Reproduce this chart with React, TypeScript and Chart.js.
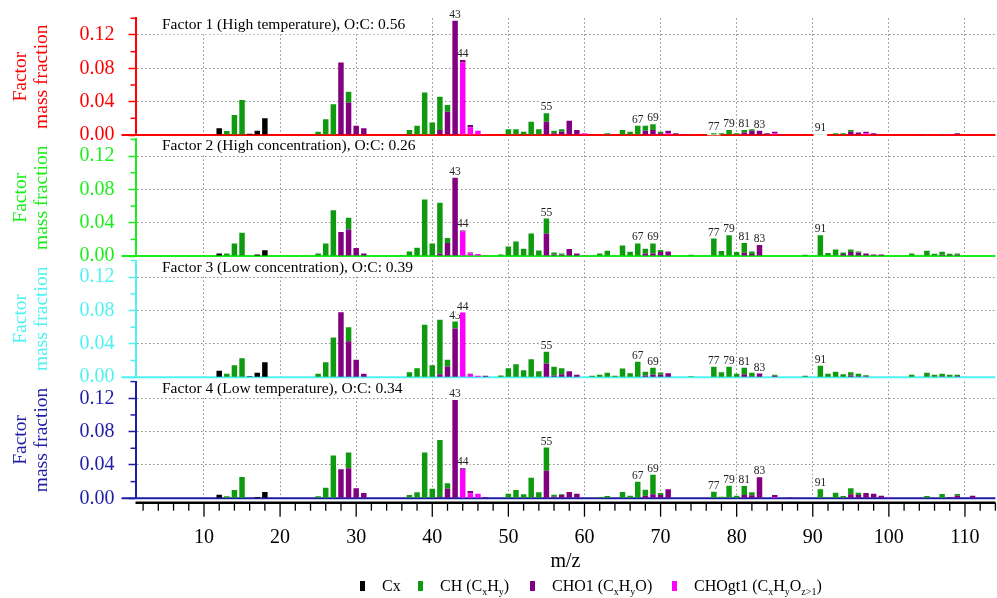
import React, { useEffect, useRef } from 'react';
import { Chart, registerables } from 'chart.js';

Chart.register(...registerables);

type Pair = [number, number];

// ---------------- data ----------------
const mzMin = 1;
const mzMax = 114;
const xTickLabels = [10, 20, 30, 40, 50, 60, 70, 80, 90, 100, 110];
const yTickLabels = [0, 0.04, 0.08, 0.12];
const yMinorTicks = [0.02, 0.06, 0.1, 0.14];
const yMax = 0.14;
const peakLabels = [43, 44, 55, 67, 69, 77, 79, 81, 83, 91];

const factorTitles = [
  'Factor 1 (High temperature), O:C: 0.56',
  'Factor 2 (High concentration), O:C: 0.26',
  'Factor 3 (Low concentration), O:C: 0.39',
  'Factor 4 (Low temperature), O:C: 0.34',
];

// Factor 1
const f1Cx: Pair[] = [[12, 0.008], [16, 0.0015], [17, 0.005], [18, 0.02]];
const f1CH: Pair[] = [[13, 0.0048], [14, 0.024], [15, 0.042], [25, 0.004], [26, 0.019], [27, 0.037], [29, 0.013], [37, 0.006], [38, 0.011], [39, 0.051], [40, 0.015], [41, 0.04], [42, 0.008], [50, 0.007], [51, 0.007], [52, 0.004], [53, 0.016], [54, 0.007], [55, 0.01], [56, 0.003], [57, 0.003], [63, 0.002], [65, 0.006], [66, 0.004], [67, 0.011], [68, 0.006], [69, 0.007], [70, 0.002], [74, 0.001], [76, 0.001], [77, 0.002], [78, 0.002], [79, 0.006], [80, 0.002], [81, 0.003], [82, 0.002], [91, 0.001], [93, 0.002], [94, 0.002], [95, 0.002], [105, 0.001], [107, 0.001]];
const f1CHO1: Pair[] = [[28, 0.087], [29, 0.039], [30, 0.011], [31, 0.008], [41, 0.006], [42, 0.028], [43, 0.137], [44, 0.003], [45, 0.003], [55, 0.016], [56, 0.002], [57, 0.004], [58, 0.017], [59, 0.006], [68, 0.005], [69, 0.005], [70, 0.002], [71, 0.003], [72, 0.002], [73, 0.001], [81, 0.003], [82, 0.005], [83, 0.005], [84, 0.002], [85, 0.002], [86, 0.001], [95, 0.004], [96, 0.003], [97, 0.002], [98, 0.002], [99, 0.001], [104, 0.001], [109, 0.002], [111, 0.001]];
const f1CHOgt1: Pair[] = [[44, 0.087], [45, 0.009], [46, 0.005], [47, 0.001], [60, 0.002], [69, 0.001], [71, 0.002], [85, 0.002], [97, 0.002], [108, 0.001]];

// Factor 2
const f2Cx: Pair[] = [[12, 0.003], [17, 0.002], [18, 0.007]];
const f2CH: Pair[] = [[13, 0.003], [14, 0.015], [15, 0.028], [25, 0.003], [26, 0.015], [27, 0.055], [29, 0.014], [36, 0.001], [37, 0.0056], [38, 0.01], [39, 0.068], [40, 0.015], [41, 0.061], [42, 0.006], [49, 0.002], [50, 0.0116], [51, 0.0176], [52, 0.0088], [53, 0.026], [54, 0.0068], [55, 0.018], [56, 0.0024], [57, 0.0016], [62, 0.003], [63, 0.0064], [65, 0.0128], [66, 0.0052], [67, 0.0152], [68, 0.0058], [69, 0.0122], [70, 0.0024], [74, 0.0016], [77, 0.021], [78, 0.006], [79, 0.025], [80, 0.0048], [81, 0.0116], [82, 0.0032], [89, 0.0016], [91, 0.025], [92, 0.0036], [93, 0.008], [94, 0.002], [95, 0.0032], [96, 0.0016], [103, 0.003], [105, 0.0064], [106, 0.0028], [107, 0.0035], [108, 0.0015], [109, 0.0016]];
const f2CHO1: Pair[] = [[28, 0.029], [29, 0.032], [30, 0.0096], [31, 0.003], [41, 0.003], [42, 0.0156], [43, 0.094], [44, 0.0012], [45, 0.0014], [53, 0.001], [55, 0.027], [56, 0.002], [57, 0.0016], [58, 0.0084], [59, 0.0032], [68, 0.003], [69, 0.003], [70, 0.0048], [71, 0.0056], [81, 0.004], [82, 0.0024], [83, 0.0132], [94, 0.0024], [95, 0.0048], [96, 0.004], [97, 0.0032], [98, 0.002], [99, 0.002], [107, 0.0017], [108, 0.0013], [109, 0.0016]];
const f2CHOgt1: Pair[] = [[44, 0.0296], [45, 0.003], [46, 0.0024], [47, 0.001], [60, 0.001]];

// Factor 3
const f3Cx: Pair[] = [[12, 0.0076], [16, 0.001], [17, 0.0052], [18, 0.018]];
const f3CH: Pair[] = [[13, 0.004], [14, 0.0144], [15, 0.0228], [25, 0.004], [26, 0.018], [27, 0.0476], [29, 0.017], [37, 0.006], [38, 0.0108], [39, 0.063], [40, 0.0144], [41, 0.0652], [42, 0.008], [43, 0.0084], [49, 0.002], [50, 0.0108], [51, 0.0156], [52, 0.0084], [53, 0.0216], [54, 0.0072], [55, 0.014], [56, 0.0104], [57, 0.0072], [61, 0.0016], [62, 0.0028], [63, 0.0052], [64, 0.0016], [65, 0.0104], [66, 0.0048], [67, 0.0184], [68, 0.0044], [69, 0.0082], [70, 0.0026], [74, 0.001], [77, 0.0124], [78, 0.006], [79, 0.0124], [80, 0.004], [81, 0.0076], [82, 0.0042], [85, 0.001], [89, 0.0016], [91, 0.0136], [92, 0.004], [93, 0.0064], [94, 0.0036], [95, 0.004], [96, 0.003], [97, 0.0014], [103, 0.0028], [105, 0.0052], [106, 0.003], [107, 0.003], [108, 0.0028], [109, 0.002]];
const f3CHO1: Pair[] = [[28, 0.078], [29, 0.043], [30, 0.021], [31, 0.004], [41, 0.0036], [42, 0.0128], [43, 0.0584], [45, 0.001], [47, 0.0016], [55, 0.0164], [56, 0.002], [57, 0.0036], [58, 0.0072], [59, 0.0028], [68, 0.002], [69, 0.003], [70, 0.003], [71, 0.0048], [81, 0.0036], [82, 0.001], [83, 0.0044], [85, 0.0018], [95, 0.002], [96, 0.001], [97, 0.001], [107, 0.001], [109, 0.001]];
const f3CHOgt1: Pair[] = [[44, 0.0776], [45, 0.003], [46, 0.0016]];

// Factor 4
const f4Cx: Pair[] = [[12, 0.0044], [17, 0.0016], [18, 0.0076]];
const f4CH: Pair[] = [[13, 0.0024], [14, 0.01], [15, 0.0256], [25, 0.0024], [26, 0.0128], [27, 0.0512], [29, 0.019], [37, 0.004], [38, 0.0072], [39, 0.055], [40, 0.0116], [41, 0.0684], [42, 0.0064], [50, 0.0056], [51, 0.01], [52, 0.0048], [53, 0.0248], [54, 0.0072], [55, 0.0276], [56, 0.0024], [57, 0.001], [62, 0.0016], [63, 0.0028], [65, 0.0076], [66, 0.0032], [67, 0.02], [68, 0.0074], [69, 0.0236], [70, 0.0024], [77, 0.008], [78, 0.002], [79, 0.0152], [80, 0.0032], [81, 0.0108], [82, 0.0036], [91, 0.0108], [92, 0.0012], [93, 0.0068], [94, 0.0028], [95, 0.0072], [96, 0.0028], [105, 0.0028], [107, 0.0052], [109, 0.002]];
const f4CHO1: Pair[] = [[28, 0.0348], [29, 0.036], [30, 0.012], [31, 0.0064], [41, 0.0016], [42, 0.0116], [43, 0.118], [44, 0.0016], [45, 0.0028], [47, 0.0016], [55, 0.0332], [56, 0.002], [57, 0.004], [58, 0.0076], [59, 0.0056], [68, 0.003], [69, 0.0048], [70, 0.004], [71, 0.0108], [81, 0.004], [82, 0.0036], [83, 0.0252], [85, 0.0025], [87, 0.0012], [95, 0.0048], [96, 0.004], [97, 0.0064], [98, 0.0056], [99, 0.0032], [108, 0.0016], [109, 0.0032], [111, 0.0032]];
const f4CHOgt1: Pair[] = [[44, 0.0344], [45, 0.006], [46, 0.0056], [85, 0.0015], [100, 0.0012]];

// order: Cx, CH, CHO1, CHOgt1
const factorSeries: Pair[][][] = [
  [f1Cx, f1CH, f1CHO1, f1CHOgt1],
  [f2Cx, f2CH, f2CHO1, f2CHOgt1],
  [f3Cx, f3CH, f3CHO1, f3CHOgt1],
  [f4Cx, f4CH, f4CHO1, f4CHOgt1],
];
const seriesNames = ['Cx', 'CH', 'CHO1', 'CHOgt1'];

// ---------------- style ----------------
const FAMILY = '"Liberation Serif", "Times New Roman", Times, serif';
const SERIES_COLORS = ['#000000', '#109a10', '#800080', '#ff00ff'];
const PANEL_COLORS = ['#ff0000', '#1aee1a', '#4ff2f2', '#1c1ca6'];
const W = 997;
const H = 598;
const PLOT_LEFT = 135.5;
const PLOT_RIGHT = 995.4;
const FIRST_BOTTOM = 135;
const PANEL_STEP = 121.1;
const PANEL_HEIGHT = 116.7;
const AXIS_BOTTOM = 576;

const valueAt = (arr: Pair[], mz: number) => {
  const p = arr.find((d) => d[0] === mz);
  return p ? p[1] : 0;
};

function panelPlugin(i: number, isBottom: boolean) {
  const color = PANEL_COLORS[i];
  const series = factorSeries[i];
  return {
    id: 'panelDeco' + i,
    beforeDatasetsDraw(chart: any) {
      const { ctx, chartArea: a, scales } = chart;
      const xs = scales.x;
      const ys = scales.y;
      ctx.save();
      // zero line
      const y0 = ys.getPixelForValue(0);
      ctx.strokeStyle = color;
      ctx.lineWidth = 2;
      ctx.beginPath();
      ctx.moveTo(a.left - 14, y0);
      ctx.lineTo(a.right, y0);
      ctx.stroke();
      // panel title
      ctx.font = `15.5px ${FAMILY}`;
      ctx.textAlign = 'left';
      ctx.textBaseline = 'middle';
      const title = factorTitles[i];
      const tw = ctx.measureText(title).width;
      const tx = a.left + 26.5;
      const ty = a.top + 7;
      ctx.fillStyle = '#ffffff';
      ctx.fillRect(tx - 4, a.top, tw + 8, 16);
      ctx.fillStyle = '#000000';
      ctx.fillText(title, tx, ty);
      // peak labels
      ctx.font = `11.5px ${FAMILY}`;
      ctx.textAlign = 'center';
      ctx.textBaseline = 'alphabetic';
      for (const mz of peakLabels) {
        const tot = series.reduce((s, arr) => s + valueAt(arr, mz), 0);
        const px = xs.getPixelForValue(mz);
        const py = ys.getPixelForValue(tot) - 3;
        const txt = String(mz);
        const w = ctx.measureText(txt).width;
        ctx.fillStyle = '#ffffff';
        ctx.fillRect(px - w / 2 - 1, py - 10, w + 2, 15);
        ctx.fillStyle = '#222222';
        ctx.fillText(txt, px, py);
      }
      ctx.restore();
    },
    afterDraw(chart: any) {
      const { ctx, chartArea: a, scales } = chart;
      const xs = scales.x;
      const ys = scales.y;
      ctx.save();
      ctx.strokeStyle = color;
      ctx.lineWidth = 1.5;
      for (const v of yMinorTicks) {
        const py = ys.getPixelForValue(v);
        ctx.beginPath();
        ctx.moveTo(a.left - 5, py);
        ctx.lineTo(a.left, py);
        ctx.stroke();
      }
      if (isBottom) {
        const ay = a.bottom + 4.4;
        ctx.strokeStyle = '#000000';
        ctx.lineWidth = 2.5;
        ctx.beginPath();
        ctx.moveTo(a.left, ay);
        ctx.lineTo(a.right, ay);
        ctx.stroke();
        ctx.lineWidth = 1.3;
        for (let v = 2; v <= mzMax; v += 2) {
          const px = xs.getPixelForValue(v);
          const len = v % 10 === 0 ? 14 : 8;
          ctx.beginPath();
          ctx.moveTo(px, ay);
          ctx.lineTo(px, ay + len);
          ctx.stroke();
        }
      }
      ctx.restore();
    },
  };
}

function buildConfig(i: number): any {
  const isBottom = i === factorSeries.length - 1;
  const color = PANEL_COLORS[i];
  const bottom = FIRST_BOTTOM + PANEL_STEP * i;
  const top = bottom - PANEL_HEIGHT;
  const series = factorSeries[i];
  const order = [3, 2, 1, 0]; // stack bottom -> top
  const datasets = order.map((k) => ({
    label: seriesNames[k],
    data: series[k].map(([x, y]) => ({ x, y })),
    backgroundColor: SERIES_COLORS[k],
    borderWidth: 0,
    barPercentage: 0.72,
    categoryPercentage: 1,
  }));
  const noPad = (s: any) => {
    s.paddingTop = 0;
    s.paddingBottom = 0;
    s.paddingLeft = 0;
    s.paddingRight = 0;
  };
  return {
    type: 'bar',
    data: { datasets },
    options: {
      responsive: false,
      animation: false,
      devicePixelRatio: 1,
      events: [],
      layout: {
        padding: {
          left: 0,
          right: W - PLOT_RIGHT,
          top,
          bottom: isBottom ? H - AXIS_BOTTOM : H - bottom,
        },
      },
      plugins: { legend: { display: false }, tooltip: { enabled: false }, title: { display: false } },
      scales: {
        x: {
          type: 'linear',
          min: mzMin,
          max: mzMax,
          offset: false,
          stacked: true,
          afterBuildTicks: (s: any) => {
            s.ticks = xTickLabels.map((v) => ({ value: v }));
          },
          afterFit: (s: any) => {
            s.height = isBottom ? AXIS_BOTTOM - bottom : 0;
            noPad(s);
          },
          grid: { color: '#8a8a8a', lineWidth: 1, drawTicks: false, offset: false },
          border: { display: false, dash: [1.5, 2.5] },
          ticks: {
            display: isBottom,
            color: '#000000',
            font: { size: 20, family: FAMILY },
            padding: 27,
            autoSkip: false,
            maxRotation: 0,
          },
          title: {
            display: isBottom,
            text: 'm/z',
            color: '#000000',
            font: { size: 20, family: FAMILY },
            padding: { top: 0, bottom: 2 },
          },
        },
        y: {
          type: 'linear',
          min: 0,
          max: yMax,
          stacked: true,
          afterBuildTicks: (s: any) => {
            s.ticks = yTickLabels.map((v) => ({ value: v }));
          },
          afterFit: (s: any) => {
            s.width = PLOT_LEFT;
            noPad(s);
          },
          grid: {
            color: (c: any) => (c.tick && c.tick.value === 0 ? 'rgba(0,0,0,0)' : '#8a8a8a'),
            lineWidth: 1,
            tickColor: color,
            tickLength: 7,
            tickWidth: 1.5,
          },
          border: { display: true, color, width: 2, dash: [1.5, 2.5] },
          ticks: {
            color,
            font: { size: 20, family: FAMILY },
            padding: 14,
            callback: (v: any) => Number(v).toFixed(2),
          },
          title: {
            display: true,
            text: ['Factor', 'mass fraction'],
            color,
            font: { size: 19.5, family: FAMILY, lineHeight: 1.08 },
            padding: { top: 10.2, bottom: 0 },
          },
        },
      },
    },
    plugins: [panelPlugin(i, isBottom)],
  };
}

function Sub({ children }: { children: any }) {
  return (
    <span style={{ fontSize: 10, position: 'relative', top: 4, lineHeight: 1 }}>{children}</span>
  );
}

const legendItems = [
  { key: 'Cx', color: SERIES_COLORS[0], left: 360, label: <>Cx</> },
  {
    key: 'CH',
    color: SERIES_COLORS[1],
    left: 418,
    label: (
      <>
        CH (C<Sub>x</Sub>H<Sub>y</Sub>)
      </>
    ),
  },
  {
    key: 'CHO1',
    color: SERIES_COLORS[2],
    left: 530,
    label: (
      <>
        CHO1 (C<Sub>x</Sub>H<Sub>y</Sub>O)
      </>
    ),
  },
  {
    key: 'CHOgt1',
    color: SERIES_COLORS[3],
    left: 672,
    label: (
      <>
        CHOgt1 (C<Sub>x</Sub>H<Sub>y</Sub>O<Sub>z&gt;1</Sub>)
      </>
    ),
  },
];

export default function App() {
  const containerRef = useRef<HTMLDivElement>(null);
  useEffect(() => {
    Chart.defaults.font.family = FAMILY;
    const canvases = containerRef.current!.querySelectorAll('canvas');
    const charts: Chart[] = [];
    canvases.forEach((cv, i) => {
      charts.push(new Chart(cv as HTMLCanvasElement, buildConfig(i)));
    });
    return () => charts.forEach((c) => c.destroy());
  }, []);

  return (
    <div
      ref={containerRef}
      style={{ position: 'absolute', left: 0, top: 0, width: W, height: H, background: '#ffffff', fontFamily: FAMILY }}
    >
      {factorSeries.map((_, i) => (
        <canvas key={i} width={W} height={H} style={{ position: 'absolute', left: 0, top: 0, width: W, height: H }} />
      ))}
      {legendItems.map((it) => (
        <div
          key={it.key}
          style={{ position: 'absolute', left: it.left, top: 578, height: 16, lineHeight: '16px', fontSize: 16, whiteSpace: 'nowrap', color: '#000' }}
        >
          <span style={{ position: 'absolute', left: 0, top: 3, width: 4.5, height: 9.5, background: it.color }} />
          <span style={{ position: 'absolute', left: 22, top: 0 }}>{it.label}</span>
        </div>
      ))}
    </div>
  );
}
